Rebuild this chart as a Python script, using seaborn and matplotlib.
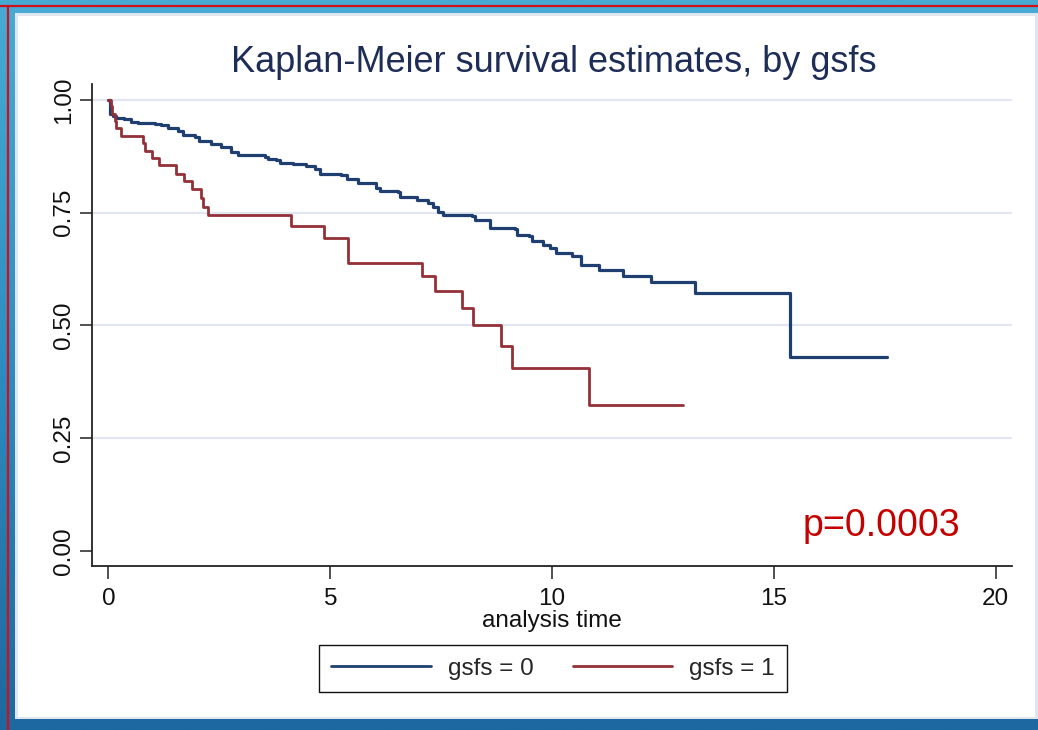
import numpy as np
import pandas as pd
import matplotlib
matplotlib.use("Agg")
import matplotlib.pyplot as plt
import seaborn as sns
from matplotlib.colors import LinearSegmentedColormap
from matplotlib.patches import Rectangle
from matplotlib.lines import Line2D

# ---------------- data ----------------
group_labels = ["gsfs = 0", "gsfs = 1"]

time_g0 = [0, 0.03, 0.10, 0.17, 0.36, 0.51, 0.66, 1.04, 1.19, 1.34, 1.56, 1.68,
           1.94, 2.05, 2.32, 2.54, 2.77, 2.92, 3.52, 3.60, 3.78, 3.86, 4.16, 4.46,
           4.65, 4.76, 5.25, 5.37, 5.63, 5.93, 6.04, 6.12, 6.53, 6.57, 6.91, 6.95,
           7.21, 7.32, 7.43, 7.55, 8.19, 8.26, 8.60, 9.16, 9.20, 9.49, 9.54, 9.80,
           9.95, 10.10, 10.44, 10.65, 11.05, 11.61, 12.23, 13.23, 15.37, 17.56]
surv_g0 = [1.000, 0.970, 0.964, 0.961, 0.957, 0.952, 0.948, 0.947, 0.945, 0.939, 0.932, 0.922,
           0.919, 0.908, 0.902, 0.895, 0.885, 0.877, 0.874, 0.869, 0.867, 0.860, 0.858, 0.854,
           0.846, 0.837, 0.834, 0.824, 0.817, 0.815, 0.804, 0.798, 0.795, 0.786, 0.784, 0.778,
           0.772, 0.762, 0.752, 0.744, 0.743, 0.735, 0.716, 0.713, 0.700, 0.698, 0.688, 0.678,
           0.672, 0.660, 0.653, 0.634, 0.623, 0.610, 0.596, 0.573, 0.430, 0.430]

time_g1 = [0, 0.05, 0.08, 0.14, 0.17, 0.29, 0.78, 0.83, 0.98, 1.14, 1.53, 1.70, 1.88,
           2.09, 2.13, 2.24, 4.12, 4.85, 5.39, 7.06, 7.35, 7.98, 8.22, 8.85, 9.10, 10.84, 12.95]
surv_g1 = [1.000, 0.987, 0.970, 0.954, 0.937, 0.921, 0.904, 0.888, 0.871, 0.856, 0.837, 0.820,
           0.803, 0.782, 0.763, 0.745, 0.721, 0.695, 0.639, 0.610, 0.577, 0.538, 0.500, 0.455,
           0.405, 0.324, 0.324]

x_ticks = [0, 5, 10, 15, 20]
y_ticks = [0.0, 0.25, 0.5, 0.75, 1.0]
y_tick_labels = ["0.00", "0.25", "0.50", "0.75", "1.00"]
title_text = "Kaplan-Meier survival estimates, by gsfs"
xlabel_text = "analysis time"
p_text = "p=0.0003"

# ---------------- style ----------------
sns.set_theme(style="white")
plt.rcParams["font.family"] = ["Liberation Sans", "DejaVu Sans"]

navy = "#1f3f70"
maroon = "#943038"
W, H = 1038, 730
fig = plt.figure(figsize=(W / 100, H / 100), dpi=100)

# background frame (blue gradient, red hairlines, white panel)
bg = fig.add_axes([0, 0, 1, 1], zorder=-10)
grad = np.linspace(0, 1, 256).reshape(-1, 1)
cmap = LinearSegmentedColormap.from_list("bgblue", ["#48abd4", "#2f8cc0", "#1d68a0"])
bg.imshow(grad, aspect="auto", cmap=cmap, extent=[0, 1, 0, 1], origin="upper")
bg.set_xlim(0, 1)
bg.set_ylim(0, 1)
bg.axis("off")
bg.add_patch(Rectangle((15 / W, 1 - 719 / H), (1038 - 15) / W, (719 - 13) / H,
                       facecolor="#dfe6ef", edgecolor="none"))
bg.add_patch(Rectangle((18 / W, 1 - 717 / H), (1035 - 18) / W, (717 - 16) / H,
                       facecolor="white", edgecolor="none"))
bg.add_line(Line2D([0, 1], [1 - 6 / H, 1 - 6 / H], color="#d0101a", lw=1.6))
bg.add_line(Line2D([7.5 / W, 7.5 / W], [0, 1 - 6 / H], color="#d0101a", lw=1.6))

# ---------------- main plot ----------------
df = pd.concat([
    pd.DataFrame({"time": time_g0, "surv": surv_g0, "group": group_labels[0]}),
    pd.DataFrame({"time": time_g1, "surv": surv_g1, "group": group_labels[1]}),
], ignore_index=True)

ax = fig.add_axes([92 / W, 1 - 566 / H, (1012 - 92) / W, (566 - 84) / H])
ax.set_facecolor("none")
sns.lineplot(data=df, x="time", y="surv", hue="group", hue_order=group_labels,
             palette=[navy, maroon], drawstyle="steps-post", estimator=None,
             errorbar=None, linewidth=2.0, ax=ax)
ax.get_lines()[0].set_linewidth(2.3)

ax.set_xlim(-0.372, 20.37)
ax.set_ylim(-0.0333, 1.0355)
ax.set_xticks(x_ticks)
ax.set_xticklabels([str(v) for v in x_ticks], fontsize=17.5, color="#111111")
ax.set_yticks(y_ticks)
ax.set_yticklabels(y_tick_labels, fontsize=17.5, color="#111111", rotation=90, va="center")
for yv in y_ticks[1:]:
    ax.axhline(yv, color="#e1e6f0", lw=1.6, zorder=0)
ax.tick_params(axis="both", which="major", length=9, width=1.2, color="#333333",
               bottom=True, left=True)
ax.tick_params(axis="x", pad=7)
ax.tick_params(axis="y", pad=3)
for side in ["top", "right"]:
    ax.spines[side].set_visible(False)
for side in ["left", "bottom"]:
    ax.spines[side].set_color("#222222")
    ax.spines[side].set_linewidth(1.3)
ax.set_ylabel("")
ax.set_xlabel(xlabel_text, fontsize=17.5, color="#111111", labelpad=0)

ax.text(15.66, 0.033, p_text, fontsize=27, color="#c40000", ha="left", va="baseline")

fig.text(554 / W, 1 - 72 / H, title_text, fontsize=26, color="#1e2d57",
         ha="center", va="baseline")

handles, labels = ax.get_legend_handles_labels()
for h in handles:
    h.set_linewidth(2.0)
ax.legend(handles, labels, loc="center", bbox_to_anchor=(553 / W, 1 - 668.5 / H),
          bbox_transform=fig.transFigure, ncol=2, frameon=True, fancybox=False,
          edgecolor="#111111", fontsize=17.5, handlelength=4.1, handletextpad=0.7,
          columnspacing=1.6, borderpad=0.5, framealpha=1)
ax.get_legend().get_frame().set_linewidth(1.0)

fig.savefig("out.png", dpi=100)
